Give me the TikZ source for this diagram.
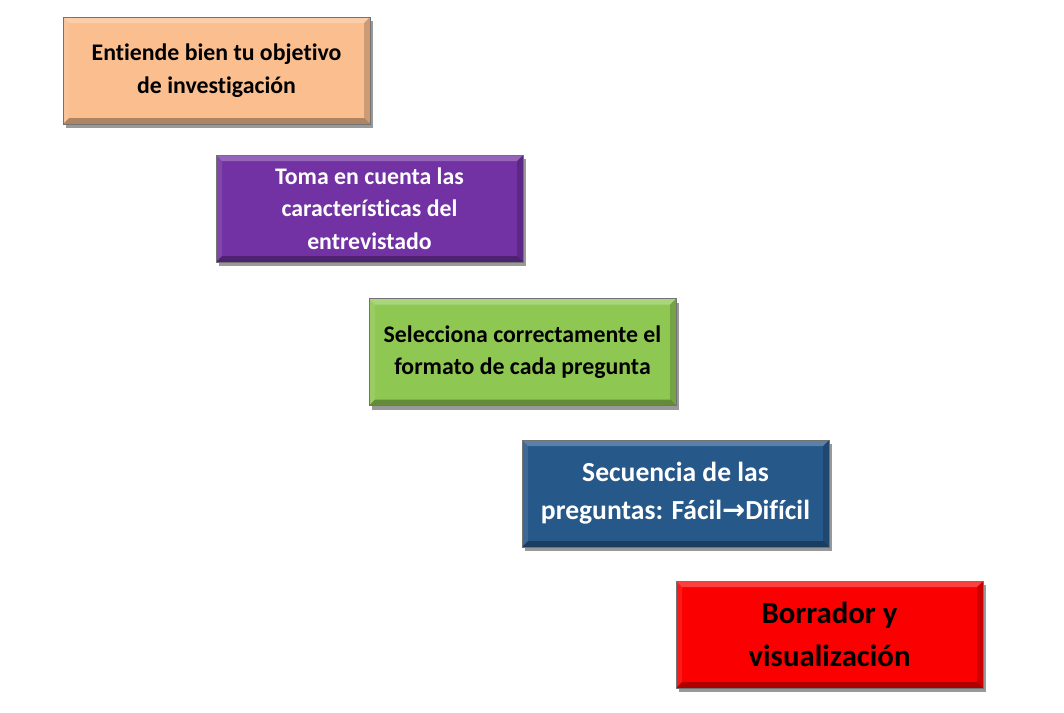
\documentclass[tikz,border=0pt]{standalone}
\usepackage{fontspec}
\setmainfont[Ligatures=NoCommon]{Carlito}
\newfontfamily\arrowfont{DejaVu Sans}
\usetikzlibrary{shadows}
\definecolor{cOrange}{RGB}{250,190,143}
\definecolor{cPurple}{RGB}{114,50,163}
\definecolor{cGreen}{RGB}{142,200,82}
\definecolor{cBlue}{RGB}{38,88,138}
\definecolor{cRed}{RGB}{250,0,0}
\tikzset{
  bevelbox/.style={rectangle, minimum width=307pt, minimum height=107pt,
    inner sep=0pt, align=center, font=\bfseries,
    draw=black!55, line width=0.8pt,
    drop shadow={shadow xshift=3pt, shadow yshift=-4pt, opacity=0.4, fill=black},
    path picture={
      \fill[white,opacity=0.25] (path picture bounding box.north west) -- (path picture bounding box.north east)
        -- ([xshift=-6pt,yshift=-6pt]path picture bounding box.north east) -- ([xshift=6pt,yshift=-6pt]path picture bounding box.north west) -- cycle;
      \fill[white,opacity=0.10] (path picture bounding box.north west) -- (path picture bounding box.south west)
        -- ([xshift=6pt,yshift=6pt]path picture bounding box.south west) -- ([xshift=6pt,yshift=-6pt]path picture bounding box.north west) -- cycle;
      \fill[black,opacity=0.18] (path picture bounding box.north east) -- (path picture bounding box.south east)
        -- ([xshift=-6pt,yshift=6pt]path picture bounding box.south east) -- ([xshift=-6pt,yshift=-6pt]path picture bounding box.north east) -- cycle;
      \fill[black,opacity=0.30] (path picture bounding box.south west) -- (path picture bounding box.south east)
        -- ([xshift=-6pt,yshift=6pt]path picture bounding box.south east) -- ([xshift=6pt,yshift=6pt]path picture bounding box.south west) -- cycle;
    }},
  smalltext/.style={font=\bfseries\fontsize{23.8}{32.5}\selectfont},
}
\begin{document}
\begin{tikzpicture}[x=1pt,y=-1pt]
\useasboundingbox[fill=white] (0,0) rectangle (1064,712);
\node[bevelbox, fill=cOrange, text=black, smalltext] (s1) at (216.5,70.5)
  {Entiende bien tu objetivo\\de investigación};
\node[bevelbox, fill=cPurple, text=white, smalltext] (s2) at (369.5,208.5)
  {Toma en cuenta las\\características del\\entrevistado};
\node[bevelbox, fill=cGreen, text=black, smalltext] (s3) at (522.5,352)
  {Selecciona correctamente el\\formato de cada pregunta};
\node[bevelbox, fill=cBlue, text=white, font=\bfseries\fontsize{27.6}{38}\selectfont] (s4) at (675.5,493.5)
  {Secuencia de las\\preguntas: Fácil{\arrowfont\bfseries →}Difícil};
\node[bevelbox, fill=cRed, text=black, font=\bfseries\fontsize{30.8}{43}\selectfont] (s5) at (829.5,634.5)
  {Borrador y\\visualización};
\end{tikzpicture}
\end{document}
